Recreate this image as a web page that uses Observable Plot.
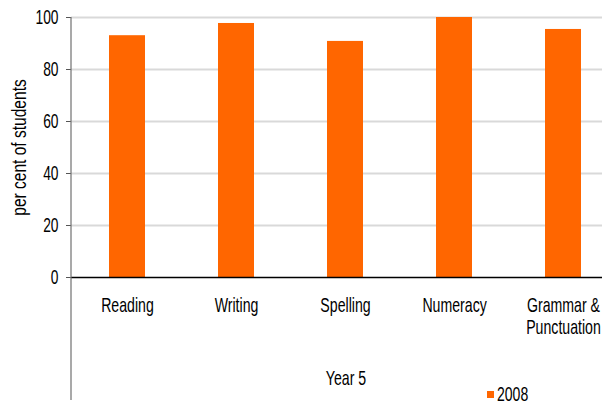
<!DOCTYPE html>
<html><head><meta charset="utf-8">
<script src="https://cdn.jsdelivr.net/npm/d3@7"></script>
<script src="https://cdn.jsdelivr.net/npm/@observablehq/plot@0.6"></script>
<style>
body{margin:0;background:#fff;font-family:"Liberation Sans",Arial,sans-serif;}
#wrap{position:relative;width:612px;height:403px;overflow:hidden;}
#lgsw{position:absolute;left:487px;top:391px;width:7px;height:7px;background:#ff6600;}
#lgtx{position:absolute;left:497px;top:386.5px;font-size:19.5px;line-height:14px;height:14px;color:#000;transform:scaleX(0.72);transform-origin:0 0;white-space:nowrap;}
</style></head><body><div id="wrap"></div>
<script>
const categories = ["Reading","Writing","Spelling","Numeracy","Grammar &\nPunctuation"];
const values2008 = [93,97.7,90.8,100,95.4];
const yTicks = [0,20,40,60,80,100];
const seriesName = "2008";
const xTitle = "Year 5";
const yTitle = "per cent of students";

const data = categories.map((c,i)=>({category:c, value:values2008[i]}));
const orange = "#ff6600";
const plot = Plot.plot({
  width:612, height:403, marginLeft:71, marginRight:10, marginTop:17, marginBottom:126,
  style:{fontFamily:"Liberation Sans, Arial, sans-serif", background:"#fff", color:"#000"},
  x:{domain:categories, range:[71,618.5], paddingInner:0.67, paddingOuter:0.335, align:0.5},
  y:{domain:[0,100]},
  marks:[
    Plot.ruleY(yTicks.slice(1), {stroke:"#d9d9d9", strokeWidth:2}),
    Plot.barY(data,{x:"category", y:"value", fill:orange}),
    Plot.ruleY([0],{stroke:"#000", strokeWidth:1.5}),
    Plot.axisY({ticks:yTicks, tickSize:5, tickPadding:8, fontSize:20, label:null, stroke:"#555", fill:"#000"}),
    Plot.axisX({tickSize:0, tickPadding:19, fontSize:20.5, label:null, lineHeight:1.08, fill:"#000"}),
    Plot.text([yTitle],{frameAnchor:"left", rotate:-90, dx:-52, fontSize:21, textAnchor:"middle", lineAnchor:"middle", fill:"#000"}),
    Plot.text([xTitle],{frameAnchor:"bottom", dy:101, dx:9, fontSize:20.5, textAnchor:"middle", lineAnchor:"middle", fill:"#000"})
  ]
});
const wrap = document.getElementById("wrap");
wrap.appendChild(plot);
// vertical axis line extending into the category area
const ys = plot.scale("y"), xs = plot.scale("x");
d3.select(plot).append("line")
  .attr("x1", xs.range[0]).attr("x2", xs.range[0])
  .attr("y1", ys.apply(100)).attr("y2", 403 - 3)
  .attr("stroke", "#707070").attr("stroke-width", 1.2);
// condensed look of the original font: squeeze glyphs along the reading direction
const NS = "http://www.w3.org/2000/svg";
plot.querySelectorAll("text").forEach(t => {
  const g = document.createElementNS(NS, "g");
  t.parentNode.insertBefore(g, t); g.appendChild(t);
  const b = g.getBBox();
  const rotated = (t.getAttribute("transform") || "").includes("rotate");
  if (rotated) {
    const cy = b.y + b.height / 2, s = 0.74;
    g.setAttribute("transform", `translate(0,${cy}) scale(1,${s}) translate(0,${-cy})`);
  } else {
    const anchor = getComputedStyle(t).textAnchor;
    const ax = anchor === "end" ? b.x + b.width : anchor === "middle" ? b.x + b.width / 2 : b.x;
    g.setAttribute("transform", `translate(${ax},0) scale(0.69,1) translate(${-ax},0)`);
  }
});
const sw = document.createElement("div"); sw.id = "lgsw"; wrap.appendChild(sw);
const tx = document.createElement("div"); tx.id = "lgtx"; tx.textContent = seriesName; wrap.appendChild(tx);
</script>
</body></html>
